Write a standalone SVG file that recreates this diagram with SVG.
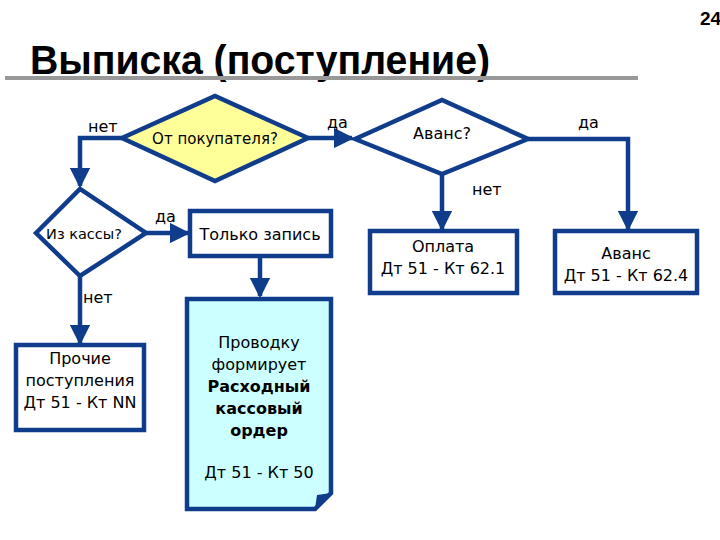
<svg xmlns="http://www.w3.org/2000/svg" width="720" height="540" viewBox="0 0 720 540">
<style>
.s{stroke:#103C8C;stroke-width:4.5;fill:#fff}
.c{stroke:#103C8C;stroke-width:4.5;fill:none}
text{font-family:Verdana,"DejaVu Sans",sans-serif;font-size:16px;fill:#000}
.m{text-anchor:middle}
.b{font-weight:bold}
</style>
<defs>
<marker id="a" markerWidth="4.5" markerHeight="4.5" refX="4" refY="2.25" orient="auto" markerUnits="strokeWidth">
<path d="M0,0L4.5,2.25L0,4.5z" fill="#103C8C"/>
</marker>
</defs>
<rect width="720" height="540" fill="#fff"/>
<text x="700" y="25" style="font-family:'Liberation Sans',Arial,sans-serif;font-size:19px;font-weight:bold">24</text>
<text x="30" y="74" style="font-family:'Liberation Sans',Arial,sans-serif;font-size:40px;font-weight:bold" transform="translate(30,0) scale(0.98,1) translate(-30,0)">Выписка (поступление)</text>
<rect x="5" y="76" width="633" height="4" fill="#999"/>
<g id="connectors">
<path class="c" d="M308,138H352" marker-end="url(#a)"/>
<path class="c" d="M122,138H80V186" marker-end="url(#a)"/>
<path class="c" d="M528,139H628V229" marker-end="url(#a)"/>
<path class="c" d="M442,174V229" marker-end="url(#a)"/>
<path class="c" d="M146,233H188" marker-end="url(#a)"/>
<path class="c" d="M260,256V296" marker-end="url(#a)"/>
<path class="c" d="M80,276V343" marker-end="url(#a)"/>
<text x="88" y="132">нет</text>
<text x="327" y="128">да</text>
<text x="578" y="128">да</text>
<text x="472" y="195">нет</text>
<text x="155" y="222">да</text>
<text x="83" y="303">нет</text>
</g>
<g id="n1"><path class="s" style="fill:#FFFF99" d="M122,138L215,96L308,138L215,181z"/><text class="m" x="215" y="144" style="font-size:15px">От покупателя?</text></g>
<g id="n2"><path class="s" d="M355,139L442,100L528,139L442,174z"/><text class="m" x="442" y="139">Аванс?</text></g>
<g id="n3"><path class="s" d="M36,233L80,189L146,233L80,276z"/><text class="m" x="84" y="239" style="font-size:14.5px">Из кассы?</text></g>
<g id="n4"><rect class="s" x="190" y="211" width="141" height="45"/><text class="m" x="260" y="240">Только запись</text></g>
<g id="n5"><rect class="s" x="370" y="231" width="147" height="62"/><text class="m" x="443" y="252">Оплата</text><text class="m" x="443" y="274">Дт 51 - Кт 62.1</text></g>
<g id="n6"><rect class="s" x="555" y="231" width="142" height="62"/><text class="m" x="626" y="259">Аванс</text><text class="m" x="626" y="281">Дт 51 - Кт 62.4</text></g>
<g id="n7"><rect class="s" x="16" y="345" width="128" height="85"/><text class="m" x="80" y="364">Прочие</text><text class="m" x="80" y="386">поступления</text><text class="m" x="80" y="408">Дт 51 - Кт NN</text></g>
<g id="n8"><path class="s" style="fill:#CCFFFF" d="M187,299H331V493L315,509H187z"/><path d="M315,509L317,495L331,493" fill="#103C8C"/>
<text class="m" x="259" y="348">Проводку</text><text class="m" x="259" y="370">формирует</text>
<text class="m b" x="259" y="392">Расходный</text><text class="m b" x="259" y="414">кассовый</text><text class="m b" x="259" y="436">ордер</text>
<text class="m" x="259" y="478">Дт 51 - Кт 50</text></g>
</svg>
